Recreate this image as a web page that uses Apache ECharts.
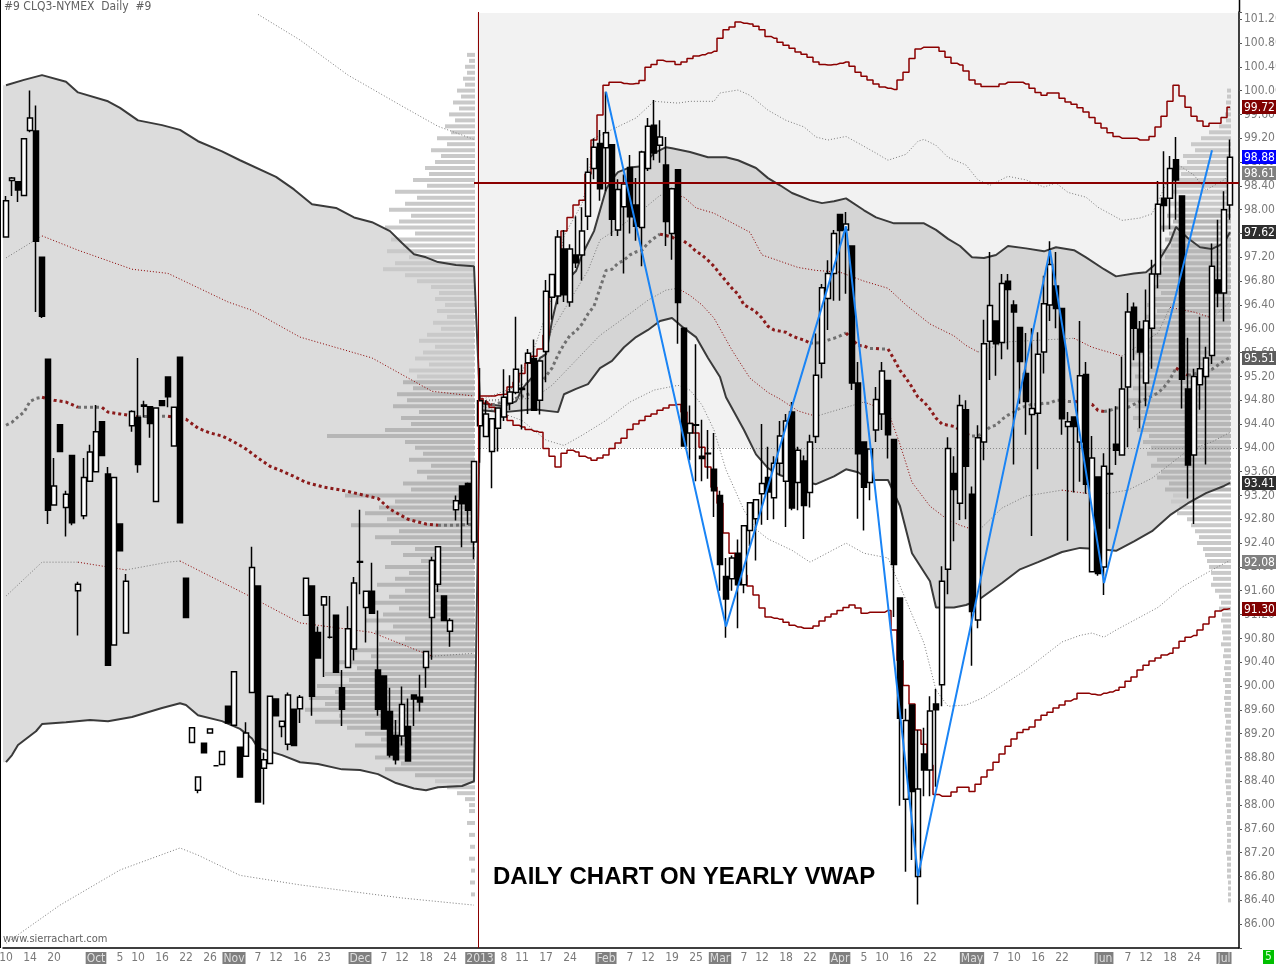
<!DOCTYPE html>
<html><head><meta charset="utf-8">
<script src="https://cdn.jsdelivr.net/npm/echarts@6.0.0/dist/echarts.min.js"></script>
<style>html,body{margin:0;padding:0;background:#fff}#c{width:1276px;height:964px}</style>
</head><body><div id="c"></div><script>
// ---------- categories (trading days) ----------
const tradingDays = {
 '2012-09':[10,11,12,13,14,17,18,19,20,21,24,25,26,27,28],
 '2012-10':[1,2,3,4,5,8,9,10,11,12,15,16,17,18,19,22,23,24,25,26,29,30,31],
 '2012-11':[1,2,5,6,7,8,9,12,13,14,15,16,19,20,21,23,26,27,28,29,30],
 '2012-12':[3,4,5,6,7,10,11,12,13,14,17,18,19,20,21,24,26,27,28,31],
 '2013-01':[2,3,4,7,8,9,10,11,14,15,16,17,18,22,23,24,25,28,29,30,31],
 '2013-02':[1,4,5,6,7,8,11,12,13,14,15,19,20,21,22,25,26,27,28],
 '2013-03':[1,4,5,6,7,8,11,12,13,14,15,18,19,20,21,22,25,26,27,28],
 '2013-04':[1,2,3,4,5,8,9,10,11,12,15,16,17,18,19,22,23,24,25,26,29,30],
 '2013-05':[1,2,3,6,7,8,9,10,13,14,15,16,17,20,21,22,23,24,28,29,30,31],
 '2013-06':[3,4,5,6,7,10,11,12,13,14,17,18,19,20,21,24,25,26,27,28],
 '2013-07':[1,2]
};
const tickDates = ['2012-09-10','2012-09-14','2012-09-20','2012-10-01','2012-10-05','2012-10-10','2012-10-16','2012-10-22','2012-10-26',
 '2012-11-01','2012-11-07','2012-11-12','2012-11-16','2012-11-23','2012-12-03','2012-12-07','2012-12-12','2012-12-18','2012-12-24',
 '2013-01-02','2013-01-08','2013-01-11','2013-01-17','2013-01-24','2013-02-01','2013-02-07','2013-02-12','2013-02-19','2013-02-25',
 '2013-03-01','2013-03-07','2013-03-12','2013-03-18','2013-03-22','2013-04-01','2013-04-05','2013-04-10','2013-04-16','2013-04-22',
 '2013-05-01','2013-05-07','2013-05-10','2013-05-16','2013-05-22','2013-06-03','2013-06-07','2013-06-12','2013-06-18','2013-06-24','2013-07-01'];
const monthLabels = {'2012-10-01':'Oct','2012-11-01':'Nov','2012-12-03':'Dec','2013-01-02':'2013','2013-02-01':'Feb',
 '2013-03-01':'Mar','2013-04-01':'Apr','2013-05-01':'May','2013-06-03':'Jun','2013-07-01':'Jul'};

// ---------- OHLC ----------
const open = [97.54,98.49,98.47,98.24,99.33,99.32,97.20,95.49,93.04,94.39,
93.00,93.87,91.60,92.86,93.44,93.60,94.44,93.56,90.69,92.72,
90.89,94.37,94.51,94.72,94.69,93.10,94.79,95.19,94.03,95.52,
91.81,89.05,88.25,89.04,89.21,88.66,88.68,89.66,89.34,88.97,
88.82,89.89,91.68,88.62,88.70,89.78,89.32,89.02,89.61,89.62,
91.19,91.68,90.90,91.36,90.82,91.19,89.97,90.31,90.62,92.09,
91.32,91.59,90.27,90.17,89.57,89.17,89.16,89.32,89.85,89.81,
90.31,91.15,91.71,91.51,90.92,92.96,93.36,93.40,92.42,94.37,
94.19,93.94,94.33,94.52,94.75,94.93,95.00,95.43,95.50,94.80,
95.62,96.53,96.55,97.34,96.45,97.24,97.24,97.89,98.69,99.11,
99.04,99.09,97.66,98.05,98.71,98.08,97.70,98.69,99.42,99.08,
98.75,97.60,98.67,96.01,94.25,94.39,93.86,93.91,93.64,93.20,
91.84,91.80,92.23,91.70,92.61,92.81,93.23,93.50,93.16,93.74,
93.44,94.60,93.42,93.78,93.25,94.19,95.42,96.51,96.93,97.92,
97.66,97.39,95.09,94.10,93.42,94.30,94.57,95.13,94.14,91.48,
88.10,89.68,86.80,88.86,88.59,89.70,90.02,91.96,93.57,93.07,
94.64,93.22,91.11,94.10,95.79,96.13,95.77,96.80,96.40,96.02,
95.25,94.56,94.58,95.61,96.40,96.72,96.34,94.36,94.52,94.10,
95.23,91.92,93.51,92.00,93.57,94.06,93.88,95.02,96.36,95.99,
95.09,96.01,96.92,98.19,98.19,98.84,98.23,94.99,93.88,95.06,
95.20,95.55,96.82,96.60,98.08];
const high = [98.23,98.55,98.47,99.19,100.00,99.75,97.20,95.49,93.83,94.39,
93.28,93.87,91.75,93.83,94.05,94.72,94.44,93.68,93.50,92.72,
91.88,94.63,95.51,94.79,94.70,94.67,94.79,95.19,94.68,95.52,
91.81,89.30,88.47,89.04,89.28,88.67,88.90,89.66,90.24,88.97,
89.39,92.34,91.68,88.88,89.83,89.78,89.41,89.89,89.61,89.85,
91.81,91.68,91.00,91.50,91.51,91.19,90.27,91.34,91.83,92.96,
91.59,92.07,91.27,90.17,89.97,89.43,89.99,89.79,89.85,90.19,
90.58,92.17,92.34,91.51,91.14,93.20,93.36,93.42,93.77,95.34,
94.80,94.49,94.67,95.32,95.22,96.20,95.40,95.66,95.82,95.46,
96.82,96.91,97.66,97.66,97.42,97.89,98.04,98.87,99.20,99.34,
99.98,99.09,98.51,98.59,98.92,98.53,98.99,99.54,99.84,99.50,
99.22,98.37,98.67,96.01,94.71,95.74,94.47,94.30,94.25,93.28,
92.15,92.19,92.46,92.69,93.08,93.13,94.40,94.02,93.86,94.45,
94.57,94.77,94.02,93.87,94.22,95.92,96.75,97.15,97.66,97.92,
97.96,97.39,95.44,94.10,93.98,95.02,95.44,95.13,94.14,91.48,
89.62,89.68,89.26,89.30,89.83,89.95,92.01,94.18,93.86,94.89,
94.80,93.35,94.38,96.15,97.29,96.13,96.92,96.92,96.48,96.02,
95.93,96.01,95.94,96.89,97.47,97.29,96.34,94.60,94.52,96.13,
95.44,94.20,93.51,93.91,94.66,94.70,95.53,96.60,96.44,96.13,
96.66,97.16,98.48,98.98,98.90,99.22,98.23,95.85,95.33,96.20,
95.70,97.43,97.83,98.31,99.18];
const low = [97.54,98.23,98.13,98.24,99.30,96.28,96.18,92.72,93.04,93.94,
92.51,92.70,90.85,92.80,93.44,93.60,93.87,90.35,90.69,92.27,
90.89,94.27,93.58,94.51,94.17,93.10,94.71,94.68,94.03,92.74,
91.15,89.05,88.20,88.88,89.21,88.65,88.68,89.38,89.34,88.47,
88.82,89.89,88.05,88.01,88.70,89.50,89.14,88.92,89.00,89.38,
91.19,89.50,90.47,90.15,90.80,90.23,89.33,90.31,90.43,91.54,
90.73,91.22,89.50,89.28,88.80,88.68,89.00,88.74,89.33,89.57,
89.97,90.44,91.58,91.10,90.66,92.78,92.33,92.71,92.13,93.75,
94.19,93.32,93.94,94.45,94.63,94.90,94.31,94.57,94.63,94.56,
95.10,96.15,96.41,96.45,96.37,97.02,96.81,97.66,98.51,98.15,
98.31,97.56,97.56,96.93,97.60,97.48,97.05,98.65,98.83,98.79,
97.39,97.16,95.75,94.03,93.79,93.44,93.44,93.48,92.84,91.60,
90.81,91.60,90.97,91.56,92.35,92.11,92.71,92.79,92.80,93.54,
92.67,92.95,92.95,92.47,93.00,94.08,95.17,95.98,96.47,96.47,
96.59,94.97,92.81,92.61,93.12,94.10,94.30,93.82,91.16,87.99,
86.88,87.08,86.33,88.15,88.15,88.31,89.66,91.54,92.43,92.79,
92.80,90.34,90.97,93.79,95.14,95.21,95.49,95.65,93.72,94.74,
94.22,92.52,93.64,95.25,96.13,96.01,94.22,92.44,93.25,93.43,
93.23,91.92,91.85,91.53,92.64,93.71,93.88,94.01,95.47,94.33,
94.70,95.33,96.68,97.63,97.67,97.83,94.66,93.15,92.72,94.64,
93.72,95.41,96.36,96.12,97.83];
const close = [98.15,98.53,98.33,99.19,99.54,97.47,96.21,92.95,93.36,93.94,
93.22,92.74,91.71,93.50,93.93,94.27,93.87,90.35,93.50,92.27,
91.76,94.61,93.72,94.70,94.41,94.67,94.71,94.86,94.68,92.74,
91.15,89.30,88.47,88.88,89.28,88.66,88.90,89.38,90.24,88.47,
89.21,91.99,88.05,88.76,89.83,89.50,89.41,89.85,89.00,89.81,
91.81,89.83,90.47,91.50,90.82,90.23,89.61,90.96,91.73,92.08,
91.59,91.22,89.61,89.28,88.84,88.76,89.69,88.74,89.78,89.73,
90.58,92.11,92.34,91.10,91.10,93.11,93.06,92.95,93.77,94.79,
94.57,94.49,94.67,94.85,94.94,95.32,94.98,95.59,94.63,95.46,
96.63,96.91,97.54,96.57,97.34,97.11,97.64,98.63,99.05,98.35,
99.29,97.84,98.34,98.43,97.88,97.72,98.97,99.40,98.95,99.22,
97.80,98.35,96.44,94.03,94.41,94.38,93.82,93.90,93.28,92.04,
91.46,92.15,91.70,92.69,93.08,93.13,93.40,93.26,93.74,94.20,
94.45,92.99,93.96,93.03,94.10,95.22,96.69,96.93,97.60,97.65,
97.76,95.09,93.90,93.34,93.98,94.81,95.29,94.22,92.04,89.46,
89.42,88.23,88.27,88.59,89.58,89.60,91.76,93.99,93.30,94.71,
93.69,91.25,94.17,95.75,96.39,95.75,96.76,96.66,96.28,95.45,
94.78,94.66,95.57,96.42,97.08,96.34,94.49,94.44,94.36,95.21,
93.39,93.83,91.89,93.69,93.56,93.96,94.99,96.28,96.01,95.61,
96.13,96.92,98.09,98.07,98.69,98.50,95.15,93.71,95.20,95.33,
95.51,97.05,96.60,98.00,98.88];

// ---------- yearly VWAP study lines: [barIndex, price] ----------
const upper12 = [[0,100.09],[3,100.18],[6,100.26],[10,100.15],[12,99.97],[17,99.82],[19,99.71],[22,99.50],[26,99.42],[29,99.34],[32,99.15],[36,98.98],[39,98.83],[45,98.55],[48,98.34],[51,98.09],[55,98.03],[58,97.87],[61,97.79],[64,97.64],[66,97.44],[68,97.25],[70,97.20],[72,97.12],[75,97.07],[78,97.05]];
const lower12 = [[0,88.72],[1,88.84],[2,89.01],[5,89.24],[6,89.36],[10,89.39],[14,89.43],[17,89.41],[21,89.48],[26,89.63],[29,89.71],[30,89.68],[32,89.51],[36,89.41],[39,89.28],[41,89.12],[42,88.96],[46,88.84],[49,88.72],[52,88.69],[56,88.60],[59,88.59],[62,88.52],[65,88.37],[68,88.28],[70,88.25],[72,88.30],[76,88.32],[78,88.40]];
const upper13 = [[79,94.75],[83,94.70],[85,94.78],[86,94.99],[88,95.22],[89,95.51],[90,95.57],[91,96.13],[92,96.56],[93,96.77],[95,96.97],[96,97.24],[98,97.64],[100,98.34],[101,98.51],[102,98.63],[104,98.71],[106,98.73],[108,98.95],[110,99.05],[111,99.03],[114,98.97],[117,98.88],[120,98.88],[122,98.83],[125,98.70],[127,98.53],[129,98.41],[131,98.28],[134,98.16],[136,98.11],[138,98.14],[140,98.19],[143,97.99],[145,97.87],[148,97.77],[150,97.77],[153,97.77],[155,97.66],[157,97.51],[159,97.39],[161,97.20],[163,97.19],[165,97.24],[167,97.39],[170,97.35],[173,97.30],[175,97.37],[178,97.32],[180,97.20],[183,97.00],[185,96.88],[188,96.93],[190,96.95],[192,97.12],[194,97.45],[195,97.71],[197,97.52],[199,97.37],[201,97.34],[203,97.44],[204,97.62]];
const lower13 = [[79,94.63],[83,94.60],[88,94.65],[92,94.60],[93,94.90],[95,94.99],[97,95.07],[99,95.34],[101,95.46],[103,95.69],[105,95.86],[107,95.98],[109,96.13],[111,96.18],[113,96.01],[115,95.86],[117,95.51],[119,95.19],[120,94.85],[123,94.30],[125,93.89],[127,93.66],[129,93.54],[132,93.46],[135,93.39],[138,93.52],[140,93.64],[142,93.59],[144,93.46],[147,93.46],[149,93.02],[151,92.23],[154,91.76],[155,91.32],[158,91.32],[160,91.36],[162,91.44],[166,91.73],[169,91.96],[172,92.08],[176,92.25],[179,92.32],[182,92.30],[185,92.27],[188,92.43],[191,92.60],[194,92.87],[197,93.07],[200,93.24],[203,93.36],[204,93.41]];
const outerUp12 = [[42,101.28],[49,100.85],[57,100.26],[66,99.74],[72,99.40],[78,99.18]];
const outerUp13 = [[79,94.80],[84,94.78],[85,95.10],[88,95.66],[91,96.53],[93,97.56],[96,98.10],[97,98.50],[98,99.20],[105,99.54],[108,99.82],[112,99.79],[114,99.82],[118,99.82],[119,99.96],[122,100.01],[124,99.92],[127,99.67],[130,99.50],[133,99.39],[135,99.22],[137,99.17],[140,99.23],[142,99.12],[145,98.95],[147,98.83],[150,98.93],[152,99.15],[153,99.18],[155,99.08],[157,98.88],[160,98.75],[162,98.50],[164,98.41],[167,98.56],[170,98.50],[173,98.38],[175,98.45],[177,98.29],[180,98.21],[182,98.04],[186,97.82],[189,97.86],[191,97.93],[195,98.78],[198,98.58],[200,98.33],[203,98.50],[204,98.61]];
const outerLo12 = [[0,85.68],[9,86.32],[19,86.91],[29,87.28],[32,87.16],[39,86.82],[49,86.66],[66,86.44],[78,86.32]];
const outerLo13 = [[79,94.72],[86,94.46],[90,94.13],[93,94.04],[96,94.21],[100,94.46],[104,94.77],[108,94.97],[112,95.05],[114,94.97],[116,94.72],[118,94.30],[120,93.63],[123,92.95],[125,92.63],[127,92.47],[131,92.28],[134,92.08],[140,92.40],[143,92.23],[147,92.15],[149,91.68],[153,90.72],[155,89.93],[157,89.66],[160,89.68],[163,89.81],[170,90.27],[176,90.74],[179,90.85],[181,90.89],[183,90.82],[185,90.94],[192,91.32],[196,91.66],[201,91.95],[204,92.11]];
const sdUp12 = [[0,97.19],[6,97.56],[12,97.32],[21,97.00],[27,96.93],[37,96.45],[41,96.31],[49,95.86],[61,95.51],[71,94.95],[78,94.87]];
const sdLo12 = [[0,91.51],[6,92.08],[12,92.08],[20,91.95],[27,92.08],[29,92.10],[40,91.54],[49,91.06],[61,90.90],[71,90.50],[78,90.55]];
const sdUp13 = [[79,94.80],[88,95.14],[91,95.98],[94,96.48],[97,96.98],[99,97.49],[102,97.69],[106,97.99],[109,98.24],[111,98.26],[113,98.21],[115,98.03],[118,97.94],[124,97.62],[126,97.24],[132,97.03],[135,96.98],[139,96.95],[143,96.80],[147,96.68],[150,96.40],[154,96.08],[158,95.88],[160,95.72],[162,95.61],[167,95.78],[178,95.84],[181,95.69],[186,95.54],[192,95.93],[194,96.36],[198,96.28],[201,96.18],[204,96.45]];
const sdLo13 = [[79,94.80],[88,94.83],[91,95.05],[95,95.47],[99,95.89],[103,96.18],[107,96.48],[110,96.65],[112,96.68],[114,96.56],[116,96.40],[118,96.18],[121,95.64],[124,95.17],[127,94.93],[129,94.82],[132,94.62],[135,94.53],[138,94.62],[140,94.68],[143,94.77],[147,94.62],[149,94.06],[151,93.42],[154,93.02],[157,92.79],[159,92.70],[162,92.60],[166,92.99],[170,93.19],[176,93.29],[182,93.21],[187,93.29],[191,93.49],[197,93.96],[201,94.10],[204,94.26]];
const vwap12 = [[0,94.38],[1,94.43],[2,94.52],[3,94.60],[4,94.78],[5,94.83],[6,94.85],[8,94.80],[10,94.77],[12,94.68],[14,94.68],[16,94.68],[17,94.60],[19,94.57],[22,94.52],[24,94.53],[26,94.53],[27,94.53],[30,94.48],[32,94.33],[34,94.25],[36,94.20],[38,94.10],[40,93.98],[42,93.83],[44,93.69],[46,93.61],[48,93.52],[50,93.42],[53,93.34],[56,93.29],[59,93.22],[62,93.15],[64,92.97],[67,92.80],[70,92.72],[72,92.70],[75,92.70],[78,92.72]];
const vwap13 = [[79,94.82],[81,94.72],[84,94.80],[88,94.93],[91,95.34],[92,95.56],[93,95.74],[94,95.89],[95,95.96],[96,96.08],[97,96.25],[98,96.38],[99,96.68],[100,96.98],[101,97.00],[102,97.10],[103,97.15],[104,97.24],[105,97.29],[106,97.32],[107,97.44],[108,97.52],[109,97.59],[111,97.54],[112,97.47],[113,97.47],[114,97.40],[115,97.30],[116,97.24],[117,97.15],[118,97.05],[119,96.92],[120,96.80],[121,96.68],[122,96.58],[123,96.40],[124,96.35],[125,96.28],[126,96.18],[127,96.04],[128,95.98],[129,95.96],[130,95.94],[131,95.88],[132,95.84],[133,95.81],[134,95.76],[135,95.76],[136,95.77],[137,95.81],[138,95.84],[139,95.88],[140,95.93],[142,95.72],[143,95.71],[144,95.67],[145,95.67],[146,95.66],[147,95.66],[148,95.49],[149,95.30],[150,95.17],[151,95.02],[152,94.85],[153,94.77],[154,94.65],[155,94.50],[156,94.40],[157,94.38],[158,94.36],[159,94.30],[160,94.23],[161,94.20],[162,94.20],[163,94.26],[164,94.35],[165,94.38],[166,94.48],[167,94.55],[168,94.60],[169,94.67],[170,94.70],[171,94.73],[172,94.73],[173,94.75],[174,94.75],[175,94.80],[176,94.80],[177,94.78],[178,94.78],[179,94.77],[180,94.75],[181,94.73],[182,94.63],[183,94.61],[184,94.63],[185,94.67],[186,94.67],[187,94.68],[188,94.73],[189,94.78],[190,94.82],[191,94.87],[192,94.92],[193,95.02],[194,95.15],[195,95.34],[196,95.27],[197,95.22],[198,95.24],[199,95.27],[200,95.29],[201,95.32],[202,95.39],[203,95.46],[204,95.52]];
// 2013 outer extreme bands, one value per bar starting at bar 79
const YEAR_START = 79;
const redUpper13 = [94.87,94.87,94.87,94.89,94.90,95.02,95.10,95.25,95.42,95.54,95.66,95.89,96.56,96.80,97.64,97.87,98.08,98.16,98.60,99.17,
99.59,100.09,100.14,100.14,100.12,100.11,100.12,100.17,100.39,100.44,100.51,100.49,100.49,100.44,100.48,100.54,100.58,100.60,100.63,100.66,
100.88,101.02,101.07,101.15,101.13,101.12,101.08,101.02,100.91,100.88,100.81,100.76,100.71,100.65,100.61,100.56,100.48,100.44,100.43,100.44,
100.46,100.48,100.41,100.31,100.24,100.18,100.11,100.06,100.04,100.02,100.18,100.31,100.54,100.70,100.73,100.73,100.73,100.66,100.56,100.46,
100.43,100.33,100.18,100.11,100.07,100.07,100.07,100.11,100.14,100.14,100.14,100.11,100.04,99.97,99.92,99.96,99.96,99.87,99.81,99.77,
99.71,99.64,99.55,99.45,99.37,99.29,99.23,99.20,99.20,99.20,99.17,99.17,99.23,99.39,99.57,99.82,100.09,99.91,99.72,99.57,
99.49,99.40,99.45,99.45,99.55,99.72];
const redLower13 = [94.83,94.75,94.68,94.60,94.55,94.46,94.38,94.35,94.31,94.28,94.26,93.99,93.86,93.68,93.91,93.96,93.93,93.86,93.83,93.79,
93.83,93.88,93.99,94.08,94.16,94.31,94.40,94.46,94.53,94.57,94.63,94.67,94.72,94.73,94.60,94.41,94.25,94.01,93.68,93.34,
93.07,92.57,92.23,92.03,91.86,91.68,91.53,91.31,91.16,91.14,91.12,91.07,91.02,90.99,90.97,90.97,91.01,91.09,91.16,91.21,
91.27,91.32,91.36,91.31,91.22,91.24,91.24,91.24,91.27,90.94,90.43,90.01,89.70,89.26,89.02,88.67,88.18,88.15,88.15,88.22,
88.30,88.30,88.23,88.35,88.47,88.59,88.72,88.86,88.99,89.11,89.22,89.27,89.31,89.43,89.51,89.56,89.63,89.68,89.75,89.78,
89.88,89.88,89.86,89.85,89.88,89.90,89.93,89.98,90.08,90.15,90.27,90.35,90.42,90.47,90.52,90.55,90.64,90.75,90.82,90.85,
90.94,91.04,91.16,91.26,91.29,91.30];
const zigzag = [[100,99.98],[120,91.00],[140,97.72],[152,86.81],[174,97.32],[183,91.73],[201,99.00]];
const refLevel = 98.45;     // horizontal reference line
const lightZoneFloor = 94.00;
const badges = [[99.72,'#800000'],[98.88,'#0000ff'],[98.61,'#808080'],[97.62,'#2e2e2e'],[95.51,'#5e5e5e'],[93.41,'#2e2e2e'],[92.08,'#808080'],[91.30,'#800000']];

// ---------- volume profiles [price, volume] ----------
const profile12 = [[100.6,8],[100.5,6],[100.4,10],[100.3,8],[100.2,12],[100.1,10],[100.0,18],[99.9,14],[99.8,22],[99.7,16],[99.6,26],[99.5,20],[99.4,30],[99.3,24],[99.2,38],[99.1,28],[99.0,44],[98.9,34],[98.8,40],[98.7,50],[98.6,46],[98.5,62],[98.4,48],[98.3,80],[98.2,58],[98.1,70],[98.0,86],[97.9,64],[97.8,76],[97.7,90],[97.6,60],[97.5,84],[97.4,72],[97.3,88],[97.2,66],[97.1,80],[97.0,92],[96.9,70],[96.8,58],[96.7,44],[96.6,36],[96.5,40],[96.4,30],[96.3,38],[96.2,28],[96.1,42],[96.0,34],[95.9,48],[95.8,56],[95.7,40],[95.6,52],[95.5,60],[95.4,46],[95.3,66],[95.2,58],[95.1,72],[95.0,62],[94.9,78],[94.8,68],[94.7,82],[94.6,56],[94.5,74],[94.4,64],[94.3,90],[94.2,148],[94.1,70],[94.0,60],[93.9,52],[93.8,66],[93.7,44],[93.6,58],[93.5,48],[93.4,72],[93.3,64],[93.2,130],[93.1,80],[93.0,96],[92.9,110],[92.8,88],[92.7,124],[92.6,76],[92.5,100],[92.4,84],[92.3,60],[92.2,72],[92.1,54],[92.0,90],[91.9,66],[91.8,80],[91.7,98],[91.6,70],[91.5,86],[91.4,104],[91.3,76],[91.2,92],[91.1,110],[91.0,82],[90.9,100],[90.8,70],[90.7,96],[90.6,120],[90.5,104],[90.4,140],[90.3,118],[90.2,150],[90.1,126],[90.0,158],[89.9,140],[89.8,166],[89.7,150],[89.6,170],[89.5,136],[89.4,160],[89.3,128],[89.2,110],[89.1,94],[89.0,120],[88.9,86],[88.8,100],[88.7,74],[88.6,90],[88.5,60],[88.4,40],[88.3,28],[88.2,18],[88.1,10],[88.0,6],[87.9,6],[87.7,8],[87.5,6],[87.3,5],[87.1,6],[86.9,4],[86.7,5],[86.5,4]];
const profile13 = [[100.0,4],[99.9,4],[99.8,5],[99.7,4],[99.6,6],[99.5,5],[99.4,12],[99.3,22],[99.2,30],[99.1,40],[99.0,36],[98.9,48],[98.8,44],[98.7,56],[98.6,50],[98.5,62],[98.4,54],[98.3,58],[98.2,50],[98.1,62],[98.0,56],[97.9,64],[97.8,58],[97.7,70],[97.6,62],[97.5,66],[97.4,60],[97.3,72],[97.2,66],[97.1,74],[97.0,68],[96.9,76],[96.8,72],[96.7,82],[96.6,70],[96.5,78],[96.4,84],[96.3,74],[96.2,86],[96.1,78],[96.0,88],[95.9,80],[95.8,92],[95.7,84],[95.6,96],[95.5,88],[95.4,100],[95.3,92],[95.2,96],[95.1,88],[95.0,98],[94.9,92],[94.8,104],[94.7,96],[94.6,90],[94.5,98],[94.4,86],[94.3,94],[94.2,82],[94.1,88],[94.0,80],[93.9,84],[93.8,74],[93.7,80],[93.6,70],[93.5,74],[93.4,62],[93.3,66],[93.2,58],[93.1,60],[93.0,52],[92.9,54],[92.8,44],[92.7,40],[92.6,36],[92.5,32],[92.4,34],[92.3,28],[92.2,26],[92.1,24],[92.0,22],[91.9,20],[91.8,18],[91.7,20],[91.6,16],[91.5,12],[91.4,10],[91.3,12],[91.2,9],[91.1,10],[91.0,8],[90.9,9],[90.8,8],[90.7,10],[90.6,7],[90.5,8],[90.4,6],[90.3,7],[90.2,6],[90.1,8],[90.0,6],[89.9,6],[89.8,7],[89.7,6],[89.6,7],[89.5,6],[89.4,5],[89.3,6],[89.2,5],[89.1,6],[89.0,5],[88.9,6],[88.8,5],[88.7,6],[88.6,5],[88.5,5],[88.4,6],[88.3,5],[88.2,5],[88.1,4],[88.0,5],[87.9,4],[87.8,4],[87.7,5],[87.6,4],[87.5,4],[87.4,4],[87.3,4],[87.2,5],[87.1,4],[87.0,4],[86.9,4],[86.8,4],[86.7,3],[86.6,3],[86.5,3],[86.4,3]];

// ---------- build ----------
const categories = [];
for (const ym in tradingDays) for (const d of tradingDays[ym]) categories.push(ym + '-' + String(d).padStart(2, '0'));
categories.push('2013-07-03'); // empty slot right of the last bar
const tickSet = new Set(tickDates);
const LAST = categories.length - 1;
const FONT = '"Liberation Sans Narrow","DejaVu Sans Condensed","Liberation Sans",sans-serif';
const YMIN = 85.6, YMAX = 101.32;

const candleData = open.map((o, i) => [o, close[i], low[i], high[i]]);
const stepData = arr => arr.map((v, i) => [YEAR_START + i, v]);

function slopeSplit(pts) {
  const up = [], dn = [];
  let lastUp = null, lastDn = null;
  for (let i = 1; i < pts.length; i++) {
    const a = pts[i - 1], b = pts[i];
    if (b[1] >= a[1]) {
      if (lastUp !== a) { if (up.length) up.push([a[0], '-']); up.push(a); }
      up.push(b); lastUp = b;
    } else {
      if (lastDn !== a) { if (dn.length) dn.push([a[0], '-']); dn.push(a); }
      dn.push(b); lastDn = b;
    }
  }
  return [up, dn];
}
function line(data, color, width, type, z, extra) {
  return Object.assign({type: 'line', data, symbol: 'none', silent: true, z, animation: false,
    connectNulls: false, lineStyle: {color, width, type, cap: 'butt'}}, extra || {});
}
function slopeLines(pts, upColor, dnColor, width, type, z) {
  const [u, d] = slopeSplit(pts);
  return [line(u, upColor, width, type, z), line(d, dnColor, width, type, z)];
}
function polygon(upper, lower, fill, z, extendLeft) {
  return {type: 'custom', silent: true, z, clip: true, animation: false, data: [[100, 95]],
    renderItem: (p, api) => {
      const bw = api.size([1, 0])[0];
      const a = upper.map(q => api.coord(q));
      const b = lower.slice().reverse().map(q => api.coord(q));
      if (extendLeft) { a.unshift([a[0][0] - bw, a[0][1]]); b.push([b[b.length - 1][0] - bw, b[b.length - 1][1]]); }
      return {type: 'polygon', shape: {points: a.concat(b)}, style: {fill}};
    }};
}
function valueArea(rows) {
  const tot = rows.reduce((s, r) => s + r[1], 0);
  let poc = 0; rows.forEach((r, i) => { if (r[1] > rows[poc][1]) poc = i; });
  let lo = poc, hi = poc, acc = rows[poc][1];
  while (acc < 0.7 * tot) {
    const a = lo > 0 ? rows[lo - 1][1] : -1, b = hi < rows.length - 1 ? rows[hi + 1][1] : -1;
    if (a >= b) { lo--; acc += a; } else { hi++; acc += b; }
  }
  return [lo, hi];
}
function profileSeries(rows, axisIdx) {
  const [lo, hi] = valueArea(rows);
  return {type: 'custom', xAxisIndex: axisIdx, yAxisIndex: axisIdx, silent: true, z: 2, animation: false, clip: true,
    data: rows.map(r => [r[1], r[0]]),
    renderItem: (p, api) => {
      const v = api.value(0), pr = api.value(1);
      const a = api.coord([0, pr]), b = api.coord([v, pr]);
      const inVA = p.dataIndex >= lo && p.dataIndex <= hi;
      return {type: 'rect', shape: {x: b[0], y: a[1] - 2, width: a[0] - b[0], height: 4},
        style: {fill: inVA ? '#b6b6b6' : '#c9c9c9'}};
    }};
}
function customSeg(z, build) {
  return {type: 'custom', silent: true, z, clip: false, animation: false, data: [[100, 95]], renderItem: (p, api) => build(api)};
}

const series = [];
// light zone of the new year
series.push(customSeg(0, api => {
  const bw = api.size([1, 0])[0];
  const a = api.coord([YEAR_START, YMAX]), b = api.coord([LAST, lightZoneFloor]);
  return {type: 'rect', shape: {x: a[0] - bw / 2, y: a[1] + 1, width: b[0] + bw / 2 - (a[0] - bw / 2), height: b[1] - a[1] - 1}, style: {fill: '#f2f2f2'}};
}));
series.push(polygon(upper12, lower12, '#dcdcdc', 1, true));
series.push(polygon(upper13, lower13, '#d5d5d5', 1, false));
series.push(profileSeries(profile12, 1));
series.push(profileSeries(profile13, 2));
// dotted 94.00 line
series.push(customSeg(3, api => {
  const bw = api.size([1, 0])[0];
  const a = api.coord([YEAR_START, lightZoneFloor]), b = api.coord([LAST, lightZoneFloor]);
  return {type: 'line', shape: {x1: a[0] - bw / 2, y1: Math.round(a[1]) + 0.5, x2: b[0] + bw / 2, y2: Math.round(a[1]) + 0.5},
    style: {stroke: '#8a8a8a', lineWidth: 1, lineDash: [1, 2]}};
}));
// outer thin dotted bands (gray)
[outerUp12, outerUp13, outerLo12, outerLo13].forEach(d => series.push(line(d, '#7a7a7a', 1, [1, 2], 3)));
// first std bands coloured by slope
[sdUp12, sdUp13, sdLo12, sdLo13].forEach(d => slopeLines(d, '#7a7a7a', '#8b0000', 1, [1, 2], 3).forEach(s => series.push(s)));
// main band lines
series.push(line(upper12.concat(upper13), '#3a3a3a', 2, 'solid', 4));
series.push(line(lower12.concat(lower13), '#3a3a3a', 2, 'solid', 4));
// extreme step bands
series.push(line(stepData(redUpper13), '#8b0000', 1.5, 'solid', 4, {step: 'middle'}));
series.push(line(stepData(redLower13), '#8b0000', 1.5, 'solid', 4, {step: 'middle'}));
// VWAP dotted, coloured by slope
[vwap12, vwap13].forEach(d => slopeLines(d, '#707070', '#8b1a1a', 3, [3, 3], 4).forEach(s => series.push(s)));
// candles
series.push({type: 'candlestick', data: candleData, z: 5, barWidth: 5, silent: true, animation: false,
  itemStyle: {color: '#ffffff', color0: '#000000', borderColor: '#000000', borderColor0: '#000000', borderColorDoji: '#000000', borderWidth: 1.5}});
// reference lines
series.push(customSeg(6, api => {
  const bw = api.size([1, 0])[0];
  const a = api.coord([YEAR_START - 1, refLevel]), b = api.coord([LAST, refLevel]);
  return {type: 'line', shape: {x1: a[0], y1: a[1], x2: b[0] + bw / 2, y2: a[1]}, style: {stroke: '#8b0000', lineWidth: 2}};
}));
series.push(customSeg(6, api => {
  const a = api.coord([YEAR_START, YMAX]), b = api.coord([YEAR_START, YMIN]);
  const x = Math.round(a[0]) - 1.5;
  return {type: 'line', shape: {x1: x, y1: a[1], x2: x, y2: b[1]}, style: {stroke: '#8b0000', lineWidth: 1}};
}));
// zigzag
series.push(line(zigzag, '#1a84f5', 2, 'solid', 7));
// price badges on the value axis
series.push({type: 'custom', silent: true, z: 20, clip: false, animation: false,
  data: badges.map(b => [LAST, b[0]]),
  renderItem: (p, api) => {
    const b = badges[p.dataIndex];
    const pt = api.coord([LAST, b[0]]);
    const bw = api.size([1, 0])[0];
    const x = pt[0] + bw / 2 + 3, y = Math.round(pt[1]);
    return {type: 'group', children: [
      {type: 'rect', shape: {x: x, y: y - 7, width: 40, height: 14}, style: {fill: b[1]}},
      {type: 'text', style: {x: x + 2, y: y + 1, text: b[0].toFixed(2), fill: '#ffffff', font: '12px ' + FONT, verticalAlign: 'middle', align: 'left'}}
    ]};
  }});

const chart = echarts.init(document.getElementById('c'), null, {renderer: 'canvas'});
chart.setOption({
  animation: false,
  backgroundColor: '#ffffff',
  grid: [{left: 3, right: 37, top: 12, bottom: 16, outerBoundsMode: 'none', containLabel: false},
         {left: 0, top: 12, bottom: 16, width: 475, outerBoundsMode: 'none', containLabel: false},
         {left: 0, right: 45, top: 12, bottom: 16, outerBoundsMode: 'none', containLabel: false}],
  xAxis: [
    {type: 'category', data: categories, boundaryGap: true,
      axisLine: {lineStyle: {color: '#000', width: 1.5}},
      axisTick: {interval: (i, v) => tickSet.has(v), alignWithLabel: true, length: 3, lineStyle: {color: '#555'}},
      splitLine: {show: false},
      axisLabel: {interval: (i, v) => tickSet.has(v), margin: 4, color: '#7a7a7a', fontFamily: FONT, fontSize: 12, hideOverlap: false,
        formatter: v => monthLabels[v] ? '{m|' + monthLabels[v] + '}' : String(+v.slice(8)),
        rich: {m: {backgroundColor: '#7f7f7f', color: '#dedede', fontFamily: FONT, fontSize: 12, padding: [1, 1, 0, 1]}}}},
    {type: 'value', gridIndex: 1, inverse: true, min: 0, max: 475, show: false},
    {type: 'value', gridIndex: 2, inverse: true, min: 0, max: 1231, show: false}
  ],
  yAxis: [
    {type: 'value', position: 'right', min: YMIN, max: YMAX, interval: 0.4, scale: true,
      axisLine: {show: true, lineStyle: {color: '#000', width: 1.5}},
      axisTick: {show: true, length: 3, lineStyle: {color: '#555'}},
      splitLine: {show: false},
      axisLabel: {margin: 5, color: '#7a7a7a', fontFamily: FONT, fontSize: 12, hideOverlap: false,
        formatter: v => (v < 85.99 || v > 101.25) ? '' : v.toFixed(2)}},
    {type: 'value', gridIndex: 1, min: YMIN, max: YMAX, show: false},
    {type: 'value', gridIndex: 2, min: YMIN, max: YMAX, show: false}
  ],
  series,
  graphic: [
    {type: 'line', shape: {x1: 0.5, y1: 0, x2: 0.5, y2: 948}, style: {stroke: '#000', lineWidth: 1}, z: 100},
    {type: 'line', shape: {x1: 1239.5, y1: 0, x2: 1239.5, y2: 12}, style: {stroke: '#000', lineWidth: 1.5}, z: 100},
    {type: 'text', left: 4, top: 1, z: 100, style: {text: '#9 CLQ3-NYMEX  Daily  #9', fill: '#606060', font: '12px ' + FONT}},
    {type: 'text', left: 3, top: 934, z: 100, style: {text: 'www.sierrachart.com', fill: '#606060', font: '11px ' + FONT}},
    {type: 'text', left: 493, top: 865, z: 100, style: {text: 'DAILY CHART ON YEARLY VWAP', fill: '#000', font: 'bold 24px "Liberation Sans", Arial, sans-serif'}},
    {type: 'rect', shape: {x: 1263, y: 950, width: 11, height: 14}, style: {fill: '#00c000'}, z: 100},
    {type: 'text', left: 1265, top: 951, z: 101, style: {text: '5', fill: '#d8ffd8', font: '12px ' + FONT}}
  ]
});
</script></body></html>
